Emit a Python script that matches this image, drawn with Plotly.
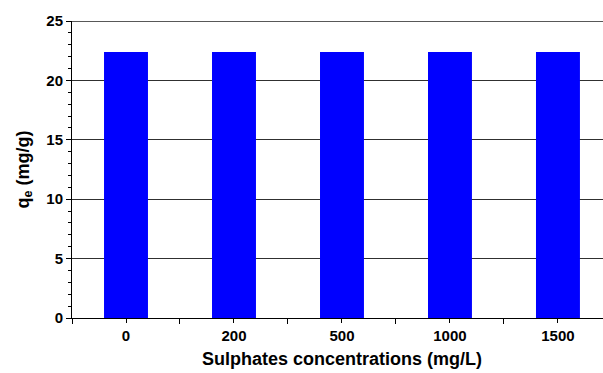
import plotly.graph_objects as go

categories = ["0", "200", "500", "1000", "1500"]
qe_values = [22.4, 22.4, 22.4, 22.4, 22.4]
y_ticks = [0, 5, 10, 15, 20, 25]

positions = list(range(len(categories)))

fig = go.Figure()
fig.add_trace(go.Bar(
    x=positions, y=qe_values, marker=dict(color="#0000FF", line=dict(width=0)),
    width=0.407,
))

font_family = "Liberation Sans"
fig.update_layout(
    width=603, height=373,
    margin=dict(l=72, r=0, t=21, b=55),
    paper_bgcolor="white", plot_bgcolor="white",
    showlegend=False,
    font=dict(family=font_family, color="black", size=15),
    xaxis=dict(
        range=[-0.5, 4.417],
        tickmode="array",
        tickvals=positions, ticktext=categories,
        tickfont=dict(size=15, family=font_family, color="black", weight="bold"),
        ticks="outside", ticklen=4, tickcolor="black", tickwidth=1,
        minor=dict(tick0=0.5, dtick=1, ticks="outside", ticklen=5, tickcolor="black", tickwidth=1),
        showline=True, linecolor="black", linewidth=1,
        showgrid=False, zeroline=False,
    ),
    yaxis=dict(
        range=[0, 25], tickmode="array", tickvals=y_ticks, ticktext=[str(v) for v in y_ticks],
        tickfont=dict(size=15, family=font_family, color="black", weight="bold"),
        ticks="outside", ticklen=5, tickcolor="black", tickwidth=1,
        minor=dict(dtick=1, ticks="outside", ticklen=3, tickcolor="black", tickwidth=1, showgrid=False),
        showline=True, linecolor="black", linewidth=1,
        showgrid=True, gridcolor="#303030", gridwidth=1,
        zeroline=False,
        title=dict(text="<b>q<sub>e</sub> (mg/g)</b>",
                   font=dict(size=18, family=font_family, color="black"), standoff=12),
    ),
)
fig.add_shape(type="line", xref="paper", yref="y", x0=0, x1=1, y0=25, y1=25,
              line=dict(color="#202020", width=1.5))
fig.add_annotation(
    text="<b>Sulphates concentrations (mg/L)</b>",
    xref="paper", yref="paper", x=0.509, y=-0.137, xanchor="center", yanchor="middle",
    showarrow=False, font=dict(size=18, family=font_family, color="black"),
)

fig.write_html("out.html")
